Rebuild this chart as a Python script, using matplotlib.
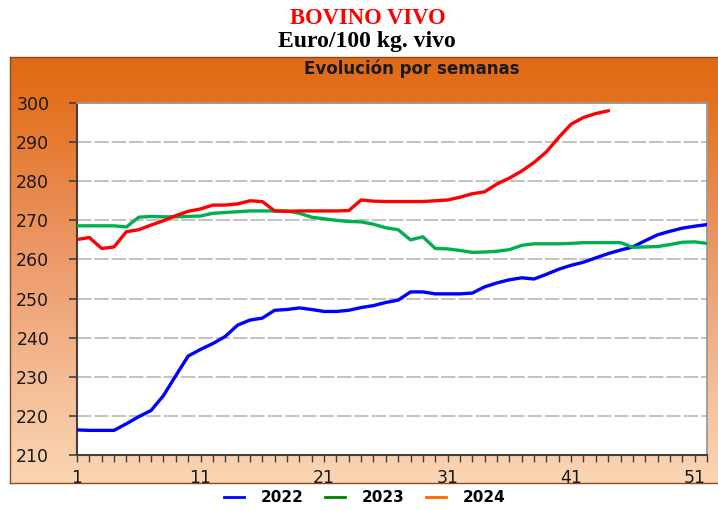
import matplotlib
matplotlib.use("Agg")
import matplotlib.pyplot as plt
import numpy as np
from matplotlib.colors import LinearSegmentedColormap
from matplotlib.lines import Line2D

# precio semanal, euro/100 kg vivo
weeks_2022 = list(range(1, 53))
precio_2022 = [216.4, 216.3, 216.3, 216.3, 218.0, 219.8, 221.4, 225.2, 230.3, 235.3,
               237.0, 238.5, 240.3, 243.2, 244.5, 245.0, 247.0, 247.2, 247.6, 247.2,
               246.7, 246.7, 247.0, 247.7, 248.2, 249.0, 249.6, 251.7, 251.7, 251.2,
               251.2, 251.2, 251.4, 253.0, 254.0, 254.8, 255.3, 255.0, 256.2, 257.5,
               258.5, 259.3, 260.4, 261.5, 262.4, 263.2, 264.8, 266.3, 267.2, 268.0,
               268.5, 268.9]

weeks_2023 = list(range(1, 53))
precio_2023 = [268.6, 268.6, 268.6, 268.6, 268.3, 270.8, 271.0, 270.9, 270.9, 271.0,
               271.1, 271.8, 272.0, 272.2, 272.4, 272.4, 272.4, 272.4, 271.8, 270.8,
               270.4, 270.0, 269.7, 269.6, 269.0, 268.1, 267.6, 265.0, 265.8, 262.8,
               262.7, 262.3, 261.8, 261.9, 262.1, 262.5, 263.6, 264.0, 264.0, 264.0,
               264.1, 264.3, 264.3, 264.3, 264.3, 263.1, 263.2, 263.3, 263.8, 264.4,
               264.5, 264.1]

weeks_2024 = list(range(1, 45))
precio_2024 = [265.1, 265.6, 262.8, 263.2, 267.1, 267.6, 268.8, 269.9, 271.2, 272.3,
               272.9, 273.9, 273.9, 274.2, 275.0, 274.8, 272.4, 272.3, 272.4, 272.4,
               272.4, 272.4, 272.5, 275.2, 274.9, 274.8, 274.8, 274.8, 274.8, 275.0,
               275.2, 275.9, 276.8, 277.3, 279.3, 280.8, 282.6, 284.8, 287.5, 291.2,
               294.6, 296.3, 297.3, 298.0]

xticks = [1, 11, 21, 31, 41, 51]
yticks = list(range(210, 301, 10))

W, H = 718, 511
fig = plt.figure(figsize=(W / 100, H / 100), dpi=100)

# orange panel behind the chart
bg = fig.add_axes([10 / W, 1 - 483 / H, 1 - 10 / W + 0.01, (483 - 57) / H], zorder=0)
cmap = LinearSegmentedColormap.from_list(
    "panel", [(0.0, "#E06A14"), (0.1, "#E3711F"), (0.45, "#EC9766"),
              (0.75, "#F4BB94"), (1.0, "#FBD6B4")])
grad = np.linspace(0, 1, 256).reshape(-1, 1)
bg.imshow(grad, aspect="auto", cmap=cmap, extent=[0, 1, 0, 1], origin="upper")
bg.set_xticks([])
bg.set_yticks([])
for s in bg.spines.values():
    s.set_color("#8A4A1E")
    s.set_linewidth(1.0)

ax = fig.add_axes([77 / W, 1 - 455 / H, 630 / W, 352 / H], zorder=1)
ax.set_facecolor("white")

ax.plot(weeks_2022, precio_2022, color="#0000FF", lw=2.4, solid_joinstyle="round", zorder=3)
ax.plot(weeks_2023, precio_2023, color="#00B050", lw=2.4, solid_joinstyle="round", zorder=3)
ax.plot(weeks_2024, precio_2024, color="#FF0000", lw=2.4, solid_joinstyle="round", zorder=4)

ax.set_xlim(1, 52)
ax.set_ylim(210, 300)
ax.set_xticks(xticks)
ax.set_xticks(range(1, 53), minor=True)
ax.set_yticks(yticks)
ax.yaxis.grid(True, color="#BDBDBD", lw=1.3, ls=(0, (8, 1.6)))
ax.set_axisbelow(True)

ax.tick_params(axis="y", direction="out", length=6, width=1.2, color="#404040",
               labelsize=12.5, pad=14, labelcolor="#1A1A1A")
ax.tick_params(axis="x", which="both", direction="out", length=5, width=1.0,
               color="#404040", labelsize=12.5, pad=5, labelcolor="#1A1A1A")

ax.spines["left"].set_color("#404040")
ax.spines["bottom"].set_color("#404040")
ax.spines["left"].set_linewidth(1.5)
ax.spines["bottom"].set_linewidth(1.5)
ax.spines["top"].set_color("#9A9A9A")
ax.spines["right"].set_color("#9A9A9A")
ax.spines["top"].set_linewidth(1.3)
ax.spines["right"].set_linewidth(1.3)

fig.text(368 / W, 1 - 24 / H, "BOVINO VIVO", color="#FF0000", fontsize=16.3,
         fontweight="bold", family="Liberation Serif", ha="center", va="baseline")
fig.text(367 / W, 1 - 47 / H, "Euro/100 kg. vivo", color="black", fontsize=17,
         fontweight="bold", family="Liberation Serif", ha="center", va="baseline")
fig.text(412 / W, 1 - 74 / H, "Evolución por semanas", color="#1A1A1A", fontsize=12,
         fontweight="bold", ha="center", va="baseline")

handles = [Line2D([], [], color="#0000FF", lw=2),
           Line2D([], [], color="#008000", lw=2),
           Line2D([], [], color="#FF6600", lw=2)]
fig.legend(handles, ["2022", "2023", "2024"], loc="center", ncol=3,
           bbox_to_anchor=(365 / W, 1 - 498 / H), frameon=False,
           prop={"weight": "bold", "size": 11}, handlelength=1.3,
           columnspacing=1.4, handletextpad=1.1)

fig.savefig("out.png", dpi=100)
